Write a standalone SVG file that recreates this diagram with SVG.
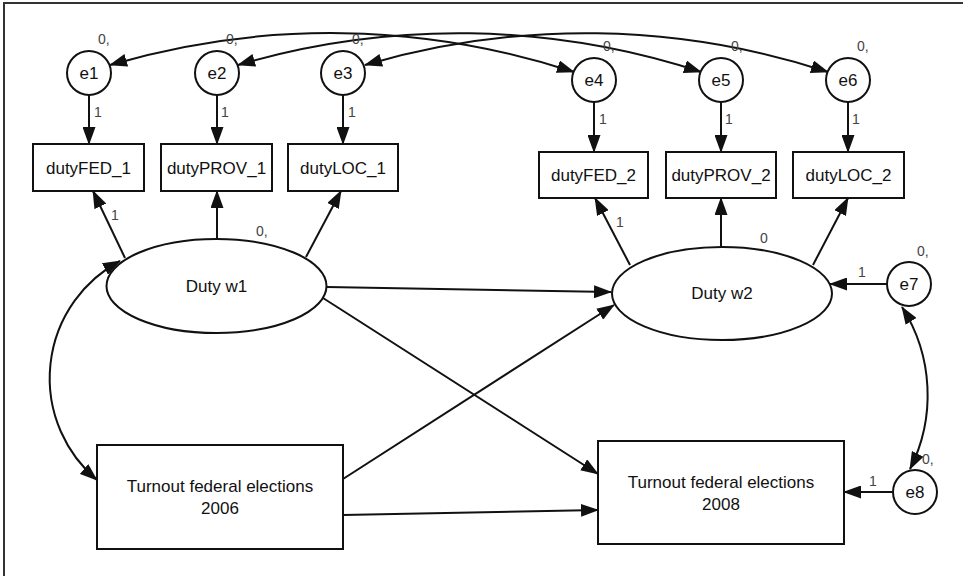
<svg xmlns="http://www.w3.org/2000/svg" width="963" height="576" viewBox="0 0 963 576">
<style>
.node{fill:#fff;stroke:#111;stroke-width:2}
.lbl{font-family:"Liberation Sans",Arial,sans-serif;font-size:17px;fill:#111;text-anchor:middle}
.sm{font-family:"Liberation Sans",Arial,sans-serif;font-size:14px;fill:#444}
.c{fill:none;stroke:#111;stroke-width:2}
.a{marker-end:url(#ah)}
.d{marker-start:url(#ah);marker-end:url(#ah)}
</style>
<defs>
<marker id="ah" markerUnits="userSpaceOnUse" markerWidth="19" markerHeight="13" refX="17" refY="6.5" orient="auto-start-reverse" viewBox="0 0 19 13">
<path d="M0,0 L18,6.5 L0,13 z" fill="#111"/>
</marker>
</defs>
<rect width="963" height="576" fill="#fff"/>
<path d="M4,576 V3 H963" fill="none" stroke="#333" stroke-width="2"/>

<g id="connectors">
<path class="c d" d="M110,65 A780,780 0 0 1 574,72"/>
<path class="c d" d="M238,65 A780,780 0 0 1 701,72"/>
<path class="c d" d="M365,65 A780,780 0 0 1 828,72"/>
<path class="c a" d="M89,95 V144"/>
<path class="c a" d="M217,95 V144"/>
<path class="c a" d="M343,95 V144"/>
<path class="c a" d="M594,102 V152"/>
<path class="c a" d="M721,102 V152"/>
<path class="c a" d="M848,102 V152"/>
<path class="c a" d="M125,258 L93,191"/>
<path class="c a" d="M217,239 V191"/>
<path class="c a" d="M306,257 L341,191"/>
<path class="c a" d="M630,265 L595,198"/>
<path class="c a" d="M721,247 V198"/>
<path class="c a" d="M813,265 L848,198"/>
<path class="c a" d="M887,284 L830,284"/>
<path class="c a" d="M893,492 L844,492"/>
<path class="c d" d="M902,307 A164,164 0 0 1 910,469"/>
<path class="c d" d="M120,261 A133,133 0 0 0 97,480"/>
<path class="c a" d="M327,287 L611,292"/>
<path class="c a" d="M323,298 L598,474"/>
<path class="c a" d="M343,479 L614,305"/>
<path class="c a" d="M343,515 L598,510"/>
</g>

<g id="labels">
<text class="sm" x="98" y="44">0,</text>
<text class="sm" x="226" y="44">0,</text>
<text class="sm" x="352" y="44">0,</text>
<text class="sm" x="603" y="51">0,</text>
<text class="sm" x="731" y="51">0,</text>
<text class="sm" x="857" y="51">0,</text>
<text class="sm" x="94" y="117">1</text>
<text class="sm" x="221" y="117">1</text>
<text class="sm" x="348" y="117">1</text>
<text class="sm" x="599" y="124">1</text>
<text class="sm" x="725" y="124">1</text>
<text class="sm" x="852" y="124">1</text>
<text class="sm" x="111" y="220">1</text>
<text class="sm" x="256" y="236">0,</text>
<text class="sm" x="616" y="227">1</text>
<text class="sm" x="760" y="243">0</text>
<text class="sm" x="858" y="277">1</text>
<text class="sm" x="917" y="256">0,</text>
<text class="sm" x="869" y="486">1</text>
<text class="sm" x="922" y="464">0,</text>
</g>

<g id="e1"><circle class="node" cx="89" cy="73" r="22"/><text class="lbl" x="89" y="79">e1</text></g>
<g id="e2"><circle class="node" cx="217" cy="73" r="22"/><text class="lbl" x="217" y="79">e2</text></g>
<g id="e3"><circle class="node" cx="343" cy="73" r="22"/><text class="lbl" x="343" y="79">e3</text></g>
<g id="e4"><circle class="node" cx="594" cy="80" r="22"/><text class="lbl" x="594" y="86">e4</text></g>
<g id="e5"><circle class="node" cx="721" cy="80" r="22"/><text class="lbl" x="721" y="86">e5</text></g>
<g id="e6"><circle class="node" cx="848" cy="80" r="22"/><text class="lbl" x="848" y="86">e6</text></g>
<g id="e7"><circle class="node" cx="909" cy="284" r="22"/><text class="lbl" x="909" y="290">e7</text></g>
<g id="e8"><circle class="node" cx="915" cy="492" r="22"/><text class="lbl" x="915" y="498">e8</text></g>

<g id="dutyFED_1"><rect class="node" x="33" y="144" width="111" height="47"/><text class="lbl" x="88.5" y="174">dutyFED_1</text></g>
<g id="dutyPROV_1"><rect class="node" x="161" y="144" width="111" height="47"/><text class="lbl" x="216.5" y="174">dutyPROV_1</text></g>
<g id="dutyLOC_1"><rect class="node" x="288" y="144" width="110" height="47"/><text class="lbl" x="343" y="174">dutyLOC_1</text></g>
<g id="dutyFED_2"><rect class="node" x="539" y="152" width="109" height="46"/><text class="lbl" x="593.5" y="181">dutyFED_2</text></g>
<g id="dutyPROV_2"><rect class="node" x="666" y="152" width="110" height="46"/><text class="lbl" x="721" y="181">dutyPROV_2</text></g>
<g id="dutyLOC_2"><rect class="node" x="793" y="152" width="111" height="46"/><text class="lbl" x="848.5" y="181">dutyLOC_2</text></g>

<g id="dutyw1"><ellipse class="node" cx="216.5" cy="286" rx="110" ry="47"/><text class="lbl" x="216.5" y="292">Duty w1</text></g>
<g id="dutyw2"><ellipse class="node" cx="722" cy="293.5" rx="110" ry="46.5"/><text class="lbl" x="722" y="299">Duty w2</text></g>

<g id="turnout2006"><rect class="node" x="97" y="445" width="246" height="104"/><text class="lbl" x="220" y="492">Turnout federal elections</text><text class="lbl" x="220" y="514">2006</text></g>
<g id="turnout2008"><rect class="node" x="598" y="441" width="246" height="103"/><text class="lbl" x="721" y="488">Turnout federal elections</text><text class="lbl" x="721" y="510">2008</text></g>
</svg>
